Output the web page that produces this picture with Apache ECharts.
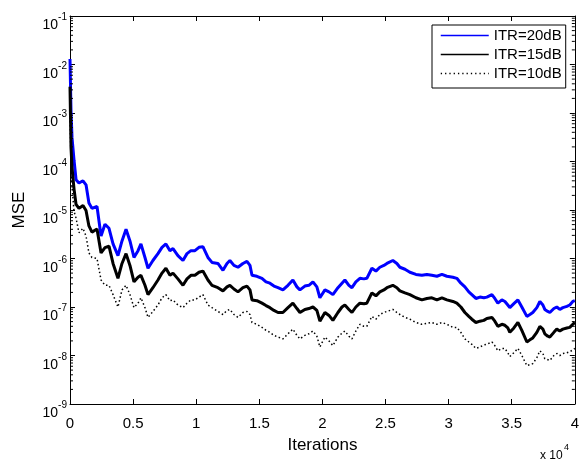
<!DOCTYPE html>
<html>
<head>
<meta charset="utf-8">
<script src="https://cdn.jsdelivr.net/npm/echarts@6/dist/echarts.min.js"></script>
<style>
html,body{margin:0;padding:0;background:#fff;}
#chart{width:582px;height:459px;}
</style>
</head>
<body>
<div id="chart"></div>
<script>
var iterations = [0,80,160,320,480,710,1030,1270,1500,1740,2140,2460,2770,3090,3410,3800,4120,4440,4750,5070,5390,5620,5940,6180,6570,6970,7290,7600,7920,8160,8550,8950,9270,9580,9900,10220,10530,10930,11250,11720,12120,12440,12670,12990,13310,13700,14020,14260,14420,14810,15210,15530,15840,16160,16480,16870,17270,17660,17980,18220,18610,18930,19250,19560,19800,20200,20520,20830,21230,21550,21780,22100,22340,22650,22970,23290,23520,23920,24240,24550,24870,25110,25580,25900,26140,26540,26930,27410,27880,28280,28670,29070,29470,29860,30340,30650,30970,31290,31600,31840,32160,32480,32790,33030,33430,33660,33900,34220,34460,34690,34850,35170,35490,35800,36200,36440,36670,36990,37230,37470,37620,37860,38020,38340,38570,38810,39050,39370,39600,39840,40000];

var mse20 = [1.3e-2,1.1e-3,3.1e-4,1.06e-4,4.2e-5,3.6e-5,4.0e-5,3.3e-5,1.4e-5,1.08e-5,
1.18e-5,2.9e-6,5.1e-6,4.2e-6,2.0e-6,1.15e-6,2.3e-6,4.0e-6,2.3e-6,1.05e-6,
1.45e-6,2.0e-6,1.05e-6,6.3e-7,9.1e-7,1.26e-6,1.7e-6,2.0e-6,1.45e-6,1.6e-6,
1.15e-6,9.1e-7,1.26e-6,1.45e-6,1.45e-6,1.7e-6,1.75e-6,1.05e-6,8.3e-7,7.9e-7,
5.7e-7,7.9e-7,9.1e-7,7.2e-7,6.6e-7,7.9e-7,8.7e-7,7.2e-7,4.5e-7,4.3e-7,
3.9e-7,3.3e-7,3.1e-7,2.7e-7,2.5e-7,2.25e-7,2.8e-7,3.6e-7,2.6e-7,2.25e-7,
2.7e-7,2.8e-7,3.3e-7,2.6e-7,1.55e-7,2.25e-7,2.05e-7,1.8e-7,2.5e-7,3.1e-7,
3.6e-7,2.8e-7,2.5e-7,3.3e-7,3.9e-7,3.8e-7,3.9e-7,6.3e-7,5.5e-7,6.6e-7,
7.2e-7,7.9e-7,9.1e-7,7.9e-7,6.6e-7,6.0e-7,5.2e-7,4.7e-7,4.5e-7,4.7e-7,
4.5e-7,4.3e-7,4.7e-7,4.3e-7,4.1e-7,3.9e-7,3.1e-7,2.6e-7,2.05e-7,1.8e-7,
1.5e-7,1.6e-7,1.55e-7,1.6e-7,1.8e-7,1.5e-7,1.2e-7,1.4e-7,1.3e-7,1.1e-7,
9.7e-8,1.17e-7,1.4e-7,1.0e-7,6.4e-8,7.0e-8,7.7e-8,9.7e-8,1.3e-7,1.1e-7,
8.9e-8,8.1e-8,7.7e-8,9.3e-8,1.0e-7,8.9e-8,9.7e-8,1.03e-7,1.1e-7,1.3e-7,1.35e-7];

var mse15 = [3.5e-3,1.9e-4,7.6e-5,2.7e-5,1.3e-5,1.08e-5,1.24e-5,9.8e-6,4.7e-6,3.5e-6,
4.05e-6,1.3e-6,1.67e-6,1.8e-6,7.9e-7,3.9e-7,7.9e-7,1.26e-6,7.2e-7,3.3e-7,
4.1e-7,4.5e-7,2.8e-7,1.8e-7,2.5e-7,3.6e-7,5.0e-7,6.3e-7,4.5e-7,5.0e-7,
3.8e-7,2.8e-7,3.8e-7,4.5e-7,4.5e-7,5.2e-7,5.5e-7,3.6e-7,2.8e-7,2.5e-7,
2.15e-7,2.6e-7,2.8e-7,2.35e-7,2.05e-7,2.5e-7,2.7e-7,2.25e-7,1.4e-7,1.35e-7,
1.2e-7,1.07e-7,9.7e-8,8.5e-8,7.7e-8,7.7e-8,9.7e-8,1.2e-7,9.3e-8,7.7e-8,
8.9e-8,9.3e-8,1.0e-7,8.5e-8,5.1e-8,7.7e-8,6.7e-8,5.3e-8,7.7e-8,1.0e-7,
1.1e-7,8.9e-8,7.7e-8,1.0e-7,1.2e-7,1.17e-7,1.2e-7,1.95e-7,1.7e-7,2.05e-7,
2.25e-7,2.5e-7,2.8e-7,2.5e-7,2.15e-7,1.95e-7,1.8e-7,1.55e-7,1.4e-7,1.5e-7,
1.55e-7,1.4e-7,1.55e-7,1.4e-7,1.3e-7,1.2e-7,1.0e-7,7.7e-8,6.4e-8,5.6e-8,
4.8e-8,5.1e-8,5.3e-8,5.8e-8,6.1e-8,5.1e-8,4.0e-8,4.4e-8,4.2e-8,3.7e-8,
3.0e-8,3.7e-8,4.8e-8,3.3e-8,1.9e-8,2.1e-8,2.3e-8,3.0e-8,4.0e-8,3.5e-8,
2.8e-8,2.5e-8,2.4e-8,3.0e-8,3.5e-8,3.2e-8,3.5e-8,3.7e-8,3.8e-8,4.4e-8,4.8e-8];

var mse10 = [1.0e-3,9.6e-5,3.0e-5,9.4e-6,6.8e-6,3.4e-6,4.2e-6,2.9e-6,1.3e-6,1.05e-6,
1.0e-6,3.6e-7,2.8e-7,2.8e-7,1.8e-7,1.0e-7,2.25e-7,2.8e-7,1.8e-7,9.7e-8,
1.2e-7,1.55e-7,9.7e-8,6.1e-8,8.1e-8,1.1e-7,1.55e-7,1.8e-7,1.35e-7,1.4e-7,
1.1e-7,9.7e-8,1.2e-7,1.4e-7,1.4e-7,1.6e-7,1.8e-7,1.1e-7,9.7e-8,8.1e-8,
7.0e-8,8.5e-8,8.9e-8,7.0e-8,6.1e-8,7.7e-8,8.1e-8,7.0e-8,4.8e-8,4.4e-8,
3.8e-8,3.3e-8,3.0e-8,2.6e-8,2.4e-8,2.2e-8,2.8e-8,3.5e-8,2.6e-8,2.2e-8,
2.6e-8,2.8e-8,3.2e-8,2.5e-8,1.5e-8,2.4e-8,2.0e-8,1.6e-8,2.4e-8,2.9e-8,
3.2e-8,2.5e-8,2.2e-8,3.2e-8,4.4e-8,4.0e-8,4.0e-8,6.4e-8,5.6e-8,7.0e-8,
7.7e-8,8.1e-8,8.9e-8,7.7e-8,7.0e-8,6.1e-8,5.6e-8,4.8e-8,4.4e-8,4.6e-8,
4.8e-8,4.4e-8,4.8e-8,4.4e-8,3.8e-8,3.8e-8,3.0e-8,2.2e-8,1.9e-8,1.7e-8,
1.4e-8,1.5e-8,1.65e-8,1.7e-8,1.9e-8,1.6e-8,1.25e-8,1.4e-8,1.4e-8,1.14e-8,
9.5e-9,1.14e-8,1.4e-8,1.0e-8,6.2e-9,6.5e-9,6.8e-9,9.0e-9,1.25e-8,1.1e-8,
8.6e-9,8.2e-9,7.9e-9,1.0e-8,1.1e-8,1.0e-8,1.1e-8,1.14e-8,1.2e-8,1.3e-8,1.4e-8];

var seriesNames = ['ITR=20dB','ITR=15dB','ITR=10dB'];
var seriesColors = ['#0000ff','#000000','#000000'];
var xTickLabels = ['0','0.5','1','1.5','2','2.5','3','3.5','4'];
var yExponents = [-9,-8,-7,-6,-5,-4,-3,-2,-1];

var FONT = '"Liberation Sans", Arial, Helvetica, sans-serif';

function pairs(vals){
  return iterations.map(function(x,i){ return [x, vals[i]]; });
}

// minor tick positions for the log axis (2..9 within each decade)
var minorTicks = [];
for (var k = 0; k < yExponents.length - 1; k++) {
  for (var m = 2; m <= 9; m++) {
    minorTicks.push([0, m * Math.pow(10, yExponents[k])]);
  }
}

var chart = echarts.init(document.getElementById('chart'), null, {renderer:'canvas'});

var yLabel = {
  fontFamily: FONT, color:'#000',
  formatter: function(v){
    var e = Math.round(Math.log10(v));
    return '{b|10}{s|' + e + '}';
  },
  rich: {
    b: {fontSize: 14, fontFamily: FONT, color:'#000', lineHeight: 20, verticalAlign:'bottom'},
    s: {fontSize: 10, fontFamily: FONT, color:'#000', lineHeight: 20, verticalAlign:'top'}
  },
  padding: [13, 0, 0, 0],
  margin: 3
};

var legendLines = [
  {name: seriesNames[0], lineStyle: {color: seriesColors[0], width: 1.5, type: 'solid'}},
  {name: seriesNames[1], lineStyle: {color: seriesColors[1], width: 1.5, type: 'solid'}},
  {name: seriesNames[2], lineStyle: {color: seriesColors[2], width: 1.3, type: [1.3, 3]}}
];

var option = {
  animation: false,
  backgroundColor: '#fff',
  grid: {left: 70, right: 7, top: 16, bottom: 45, containLabel: false},
  legend: {
    data: legendLines,
    orient: 'vertical',
    left: 432, top: 25,
    padding: [3, 4, 7, 8],
    itemWidth: 48, itemHeight: 12, itemGap: 4,
    borderColor: '#000', borderWidth: 1,
    backgroundColor: '#fff',
    textStyle: {fontFamily: FONT, fontSize: 15, color: '#000', lineHeight: 14},
    itemStyle: {opacity: 0}
  },
  xAxis: [{
    type: 'value', min: 0, max: 40000, interval: 5000,
    position: 'bottom',
    name: 'Iterations', nameLocation: 'middle', nameGap: 33,
    nameTextStyle: {fontFamily: FONT, fontSize: 17, color:'#000'},
    axisLine: {show: true, onZero: false, lineStyle: {color:'#000', width: 1}},
    axisTick: {show: true, inside: true, length: 5, lineStyle: {color:'#000'}},
    axisLabel: {fontFamily: FONT, fontSize: 15, color:'#000', margin: 12,
      formatter: function(v){ return xTickLabels[Math.round(v/5000)]; }},
    splitLine: {show: false}
  },{
    type: 'value', min: 0, max: 40000, interval: 5000,
    position: 'top',
    axisLine: {show: true, onZero: false, lineStyle: {color:'#000', width: 1}},
    axisTick: {show: true, inside: true, length: 5, lineStyle: {color:'#000'}},
    axisLabel: {show: false},
    splitLine: {show: false}
  }],
  yAxis: [{
    type: 'log', logBase: 10, min: 1e-9, max: 1e-1, splitNumber: 8,
    position: 'left',
    name: 'MSE', nameLocation: 'middle', nameGap: 42,
    nameTextStyle: {fontFamily: FONT, fontSize: 17, color:'#000'},
    axisLine: {show: true, onZero: false, lineStyle: {color:'#000', width: 1}},
    axisTick: {show: true, inside: true, length: 5, lineStyle: {color:'#000'}},
    axisLabel: yLabel,
    splitLine: {show: false}
  },{
    type: 'log', logBase: 10, min: 1e-9, max: 1e-1, splitNumber: 8,
    position: 'right',
    axisLine: {show: true, onZero: false, lineStyle: {color:'#000', width: 1}},
    axisTick: {show: true, inside: true, length: 5, lineStyle: {color:'#000'}},
    axisLabel: {show: false},
    splitLine: {show: false}
  }],
  graphic: [
    {type:'text', left: 540, top: 450, style:{text:'x 10', font:'12px ' + FONT, fill:'#000'}},
    {type:'text', left: 564, top: 443, style:{text:'4', font:'9px ' + FONT, fill:'#000'}}
  ],
  series: [
    {
      type: 'custom', silent: true, xAxisIndex: 0, yAxisIndex: 0,
      data: minorTicks, z: 5,
      renderItem: function(params, api){
        var p = api.coord([0, api.value(1)]);
        var cs = params.coordSys;
        return {
          type: 'group',
          children: [
            {type:'line', shape:{x1: cs.x, y1: p[1], x2: cs.x + 3, y2: p[1]}, style:{stroke:'#000', lineWidth: 1}},
            {type:'line', shape:{x1: cs.x + cs.width - 3, y1: p[1], x2: cs.x + cs.width, y2: p[1]}, style:{stroke:'#000', lineWidth: 1}}
          ]
        };
      }
    },
    {
      name: seriesNames[0], type: 'line', data: pairs(mse20),
      showSymbol: false, symbol: 'none', z: 3,
      lineStyle: {color: seriesColors[0], width: 3},
      itemStyle: {color: seriesColors[0]}
    },
    {
      name: seriesNames[1], type: 'line', data: pairs(mse15),
      showSymbol: false, symbol: 'none', z: 3,
      lineStyle: {color: seriesColors[1], width: 3},
      itemStyle: {color: seriesColors[1]}
    },
    {
      name: seriesNames[2], type: 'line', data: pairs(mse10),
      showSymbol: false, symbol: 'none', z: 3,
      lineStyle: {color: seriesColors[2], width: 1.5, type: [1.5, 2.5]},
      itemStyle: {color: seriesColors[2]}
    }
  ]
};
chart.setOption(option);
</script>
</body>
</html>
